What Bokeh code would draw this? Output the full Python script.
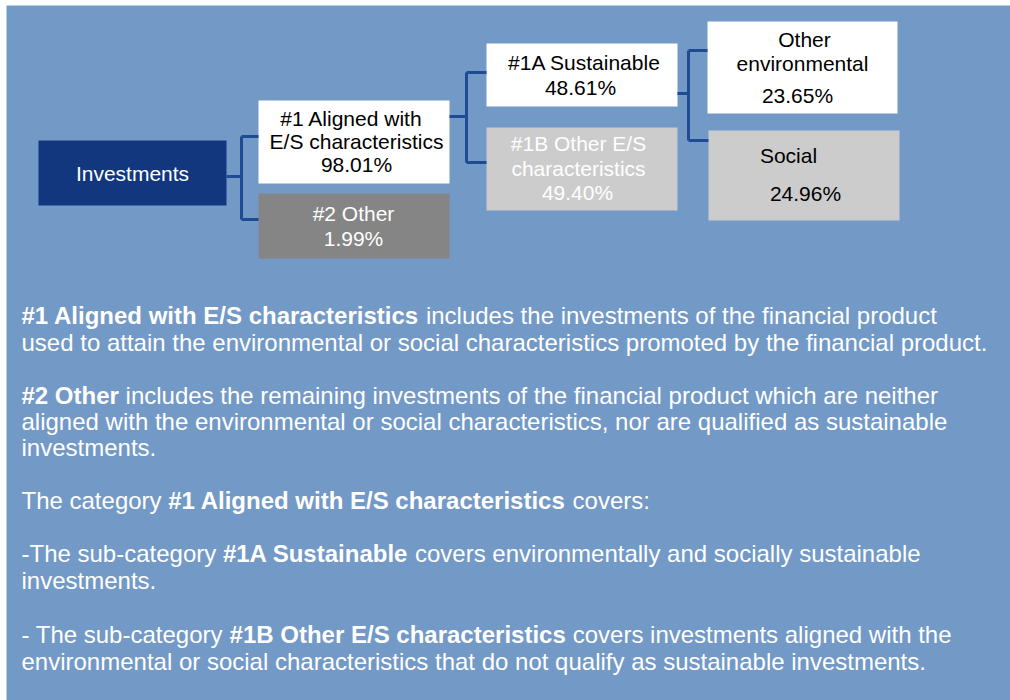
from bokeh.plotting import figure
from bokeh.models import Range1d, ColumnDataSource
from bokeh.core.properties import value
from bokeh.embed import file_html
from bokeh.resources import INLINE

# ---------------- data ----------------
nodes = ["Investments", "#1 Aligned with E/S characteristics", "#2 Other",
         "#1A Sustainable", "#1B Other E/S characteristics",
         "Other environmental", "Social"]
node_lines = [["Investments"], ["#1 Aligned with", "E/S characteristics"], ["#2 Other"],
              ["#1A Sustainable"], ["#1B Other E/S", "characteristics"],
              ["Other", "environmental"], ["Social"]]
shares = [None, 98.01, 1.99, 48.61, 49.40, 23.65, 24.96]
parents = [None, 0, 0, 1, 1, 3, 3]

para_lines = [
    [("#1 Aligned with E/S characteristics", True), ("includes the investments of the financial product", False)],
    [("used to attain the environmental or social characteristics promoted by the financial product.", False)],
    [("#2 Other", True), ("includes the remaining investments of the financial product which are neither", False)],
    [("aligned with the environmental or social characteristics, nor are qualified as sustainable", False)],
    [("investments.", False)],
    [("The category", False), ("#1 Aligned with E/S characteristics", True), ("covers:", False)],
    [("-The sub-category", False), ("#1A Sustainable", True), ("covers environmentally and socially sustainable", False)],
    [("investments.", False)],
    [("- The sub-category", False), ("#1B Other E/S characteristics", True), ("covers investments aligned with the", False)],
    [("environmental or social characteristics that do not qualify as sustainable investments.", False)],
]

# ---------------- layout / style ----------------
BG = "#7399C6"
FONT = value("Liberation Sans")
panel = (6, 1010, 5, 700)
box_rect = [  # left, right, top, bottom (page pixels)
    (38, 226, 140, 205),
    (258, 449, 100, 183),
    (258, 449, 193, 258),
    (486, 677, 43, 106),
    (486, 677, 127, 210),
    (707, 897, 21, 113),
    (708, 899, 130, 220),
]
box_fill = ["#12377F", "#FFFFFF", "#858585", "#FFFFFF", "#CCCCCC", "#FFFFFF", "#CCCCCC"]
box_text_color = ["white", "black", "white", "black", "white", "black", "black"]
label_y = [[173], [118, 141], [213], [62], [143, 168], [39, 63], [155]]
label_x = [[132], [351, 356], [353], [584], [578, 578], [804, 802], [788]]
value_y = [None, 164, 238, 87, 192, 95, 193]
value_x = [None, 356, 353, 580, 577, 797, 805]

# brackets: (stub_y, vertical_x, tick ys) per parent
brackets = {0: (176, 241, (136, 219)), 1: (116, 466, (72, 162)), 3: (93, 688, (50, 140))}
BRACKET = "#1F4A94"

para_y = [315, 342, 395, 421, 447, 500, 553, 580, 634, 661]
para_x = [[21, 425.4], [21], [21, 125.1], [21], [21], [21, 167.7, 572.1],
          [21, 222.4, 414.5], [21], [21, 229.1, 572.2], [21]]

W, H = 1010, 700
p = figure(width=W, height=H, output_backend="svg", toolbar_location=None,
           x_range=Range1d(0, W), y_range=Range1d(H, 0), min_border=0)
p.axis.visible = False
p.grid.visible = False
p.outline_line_color = None
p.background_fill_color = "white"
p.border_fill_color = "white"

# panel
p.quad(left=[panel[0]], right=[panel[1]], top=[panel[2]], bottom=[panel[3]],
       fill_color=BG, line_color=None)

# boxes
src = ColumnDataSource(dict(
    left=[b[0] for b in box_rect], right=[b[1] for b in box_rect],
    top=[b[2] for b in box_rect], bottom=[b[3] for b in box_rect],
    fill=box_fill, name=nodes))
p.quad(left="left", right="right", top="top", bottom="bottom", fill_color="fill",
       line_color=None, source=src)

# brackets
xs, ys = [], []
for par, (sy, vx, (t1, t2)) in brackets.items():
    kids = [i for i, q in enumerate(parents) if q == par]
    xs.append([box_rect[par][1], vx]); ys.append([sy, sy])
    xs.append([vx, vx]); ys.append([t1, t2])
    for k, ty in zip(kids, (t1, t2)):
        xs.append([vx, box_rect[k][0]]); ys.append([ty, ty])
p.multi_line(xs=xs, ys=ys, line_color=BRACKET, line_width=3)

# node labels
for i, lines in enumerate(node_lines):
    tx, ty, tt = list(label_x[i]), list(label_y[i]), list(lines)
    if shares[i] is not None:
        tx.append(value_x[i]); ty.append(value_y[i]); tt.append(f"{shares[i]:.2f}%")
    p.text(x=tx, y=ty, text=tt, text_font=FONT, text_font_size="21px",
           text_color=box_text_color[i], text_align="center", text_baseline="middle")

# paragraph text
for line, y, xs_ in zip(para_lines, para_y, para_x):
    for (t, bold), x in zip(line, xs_):
        p.text(x=[x], y=[y], text=[t], text_font=FONT, text_font_size="24px",
               text_font_style="bold" if bold else "normal", text_color="white",
               text_align="left", text_baseline="middle")

open("out.html", "w").write(file_html(p, INLINE))
